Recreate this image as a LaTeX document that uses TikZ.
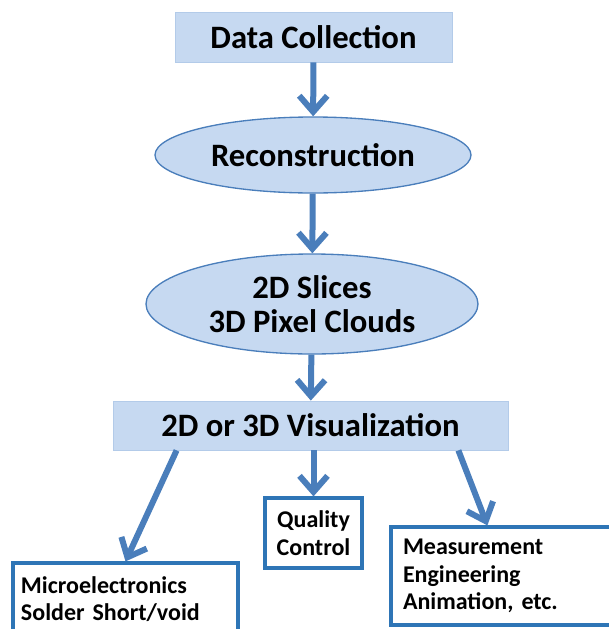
\documentclass[tikz,border=0pt]{standalone}
\usepackage{fontspec}
\setmainfont{Carlito}
\frenchspacing
\usetikzlibrary{arrows.meta}
\usetikzlibrary{shapes.geometric}
\definecolor{stagefill}{RGB}{198,217,241}
\definecolor{flowblue}{RGB}{74,126,187}
\definecolor{edgeblue}{RGB}{46,117,182}
\tikzset{
	stagebox/.style={fill=stagefill,draw=stagefill!85!flowblue,line width=0.6pt,inner sep=0pt,font=\bfseries\fontsize{24.5}{26}\selectfont},
	stageoval/.style={ellipse,fill=stagefill,draw=flowblue,line width=1pt,inner sep=0pt,align=center,font=\bfseries\fontsize{24.5}{26}\selectfont},
	usebox/.style={draw=edgeblue,line width=2.4pt,fill=white,inner ysep=0pt,inner xsep=6pt,align=left,font=\bfseries\fontsize{18}{20.5}\selectfont},
	flow/.style={flowblue,line width=4.5pt,-{Straight Barb[length=12pt,width=21pt]}}
}
\begin{document}
\begin{tikzpicture}[x=0.75pt,y=-0.75pt]
	\useasboundingbox (0,0) rectangle (609,629);
	\clip (0,0) rectangle (609,629);

	% stages
	\node[stagebox,minimum width=207.75pt,minimum height=37.5pt] (collect) at (313.5,37) {Data Collection};
	\node[stageoval,minimum width=237pt,minimum height=57pt] (recon) at (313,155) {Reconstruction};
	\node[stageoval,minimum width=249pt,minimum height=75pt] (slices) at (312,304) {2D Slices\\3D Pixel Clouds};
	\node[stagebox,minimum width=296.25pt,minimum height=36.75pt] (vis) at (310.5,425.5) {2D or 3D Visualization};

	% uses
	\node[usebox,minimum height=52.5pt,text width=62.75pt,inner xsep=5pt,align=center] (quality) at (313.5,533) {Quality\\Control};
	\node[usebox,minimum height=54pt,text width=156.75pt] (micro) at (125.5,599) {Microelectronics\\Solder Short/void};
	\node[usebox,minimum height=73.5pt,text width=153pt,inner xsep=9pt] (meas) at (505,576) {Measurement\\Engineering\\Animation, etc.};

	\draw[flow] (collect) -- (recon);
	\draw[flow] (recon) -- (slices);
	\draw[flow] (slices) -- (vis);
	\draw[flow] ([xshift=48pt]vis.south west) -- (micro.north);
	\draw[flow] (vis.south -| quality.north) -- (quality.north);
	\draw[flow] ([xshift=-37.5pt]vis.south east) -- ([xshift=73.5pt]meas.north west);
\end{tikzpicture}
\end{document}
